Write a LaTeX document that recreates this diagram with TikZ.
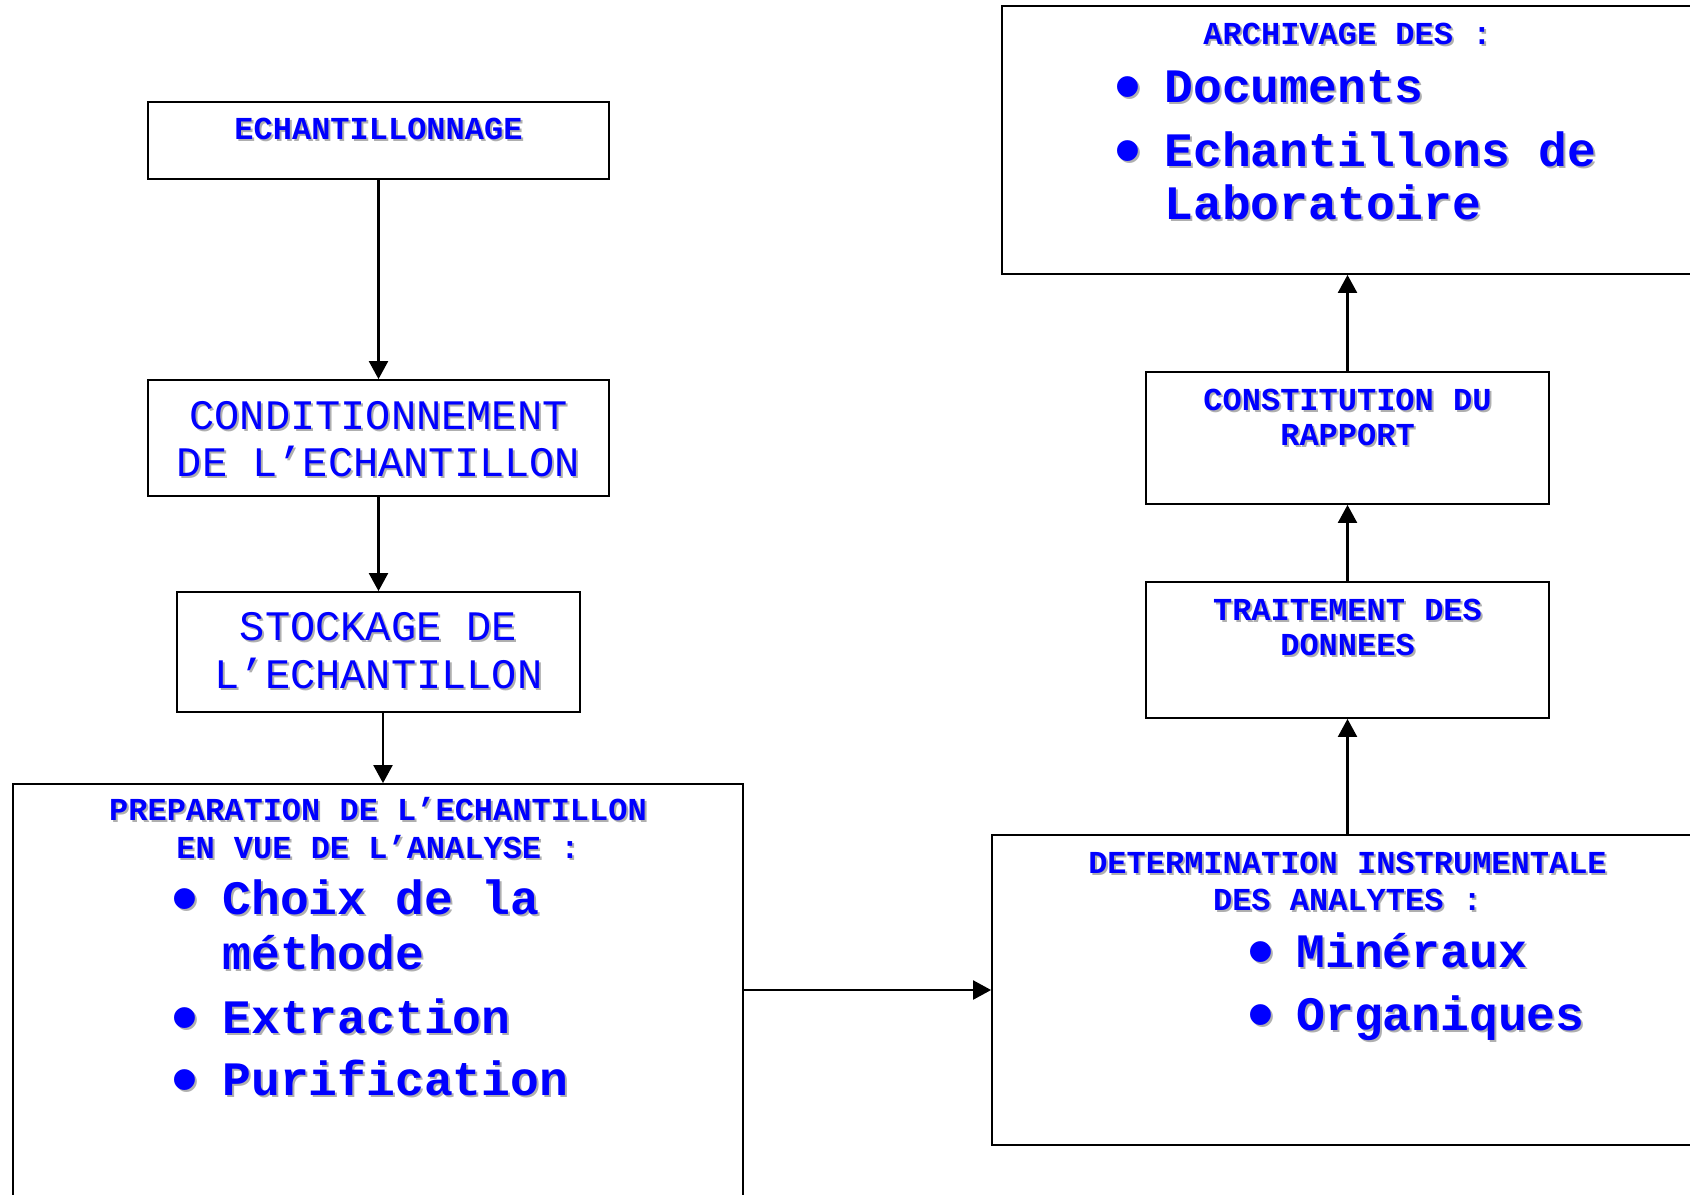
\documentclass[tikz,border=0pt]{standalone}
\usepackage{fontspec}
\setmainfont{Liberation Mono}
\newfontfamily\bulletfont{Liberation Sans}
\usetikzlibrary{arrows.meta}
\definecolor{txtblue}{RGB}{0,0,255}
\definecolor{shade}{RGB}{175,175,175}
\newcommand\sh[1]{\makebox[0pt][l]{\hspace{1pt}\raisebox{-1pt}{\color{shade}#1}}#1}
\newcommand\bul{\raisebox{-5pt}{\scalebox{1.6}{•}}}
\begin{document}
\begin{tikzpicture}[x=0.5pt,y=-0.5pt,
  box/.style={draw, line width=0.9pt, inner sep=0pt},
  arr/.style={line width=1.1pt, -{Triangle[length=9pt,width=9.5pt]}},
  head/.style={anchor=base, inner sep=0pt, text=txtblue, text height=0.7em, text depth=0.1em, font=\bfseries\fontsize{16}{19}\selectfont},
  big/.style={anchor=base, inner sep=0pt, text=txtblue, text height=0.7em, text depth=0.1em, font=\fontsize{21}{25}\selectfont},
  item/.style={anchor=base west, inner sep=0pt, text=txtblue, text height=0.75em, text depth=0.2em, font=\bfseries\fontsize{24}{28}\selectfont},
  dot/.style={anchor=base, inner sep=0pt, text=txtblue, text height=0.6em, text depth=0em, font=\bulletfont\fontsize{24}{28}\selectfont}]
\useasboundingbox (0,0) rectangle (1690,1194);

% boxes
\node[box, minimum width=230.5pt, minimum height=38.5pt] (b1) at (378.5,140.5) {};
\node[box, minimum width=230.5pt, minimum height=58pt] (b2) at (378.5,438) {};
\node[box, minimum width=201.5pt, minimum height=60pt] (b3) at (378.5,652) {};
\node[box, minimum width=365pt, minimum height=208pt] (b4) at (378,992) {};
\node[box, minimum width=355.5pt, minimum height=155pt] (b5) at (1347.5,990) {};
\node[box, minimum width=201.5pt, minimum height=68pt] (b6) at (1347.5,650) {};
\node[box, minimum width=201.5pt, minimum height=66pt] (b7) at (1347.5,438) {};
\node[box, minimum width=345.5pt, minimum height=134pt] (b8) at (1347.5,140) {};

% texts
\node[head] (t1) at (378.5,139) {\sh{ECHANTILLONNAGE}};

\node[big] (t2a) at (378.5,429) {\sh{CONDITIONNEMENT}};
\node[big] (t2b) at (378.5,476) {\sh{DE L’ECHANTILLON}};

\node[big] (t3a) at (378.5,640) {\sh{STOCKAGE DE}};
\node[big] (t3b) at (378.5,688) {\sh{L’ECHANTILLON}};

\node[head] (t4a) at (378,820) {\sh{PREPARATION DE L’ECHANTILLON}};
\node[head] (t4b) at (378,858) {\sh{EN VUE DE L’ANALYSE :}};
\node[dot] (d4a) at (185,914) {\sh{\bul}};
\node[item] (i4a) at (222,914) {\sh{Choix de la}};
\node[item] (i4b) at (222,969) {\sh{méthode}};
\node[dot] (d4b) at (185,1033) {\sh{\bul}};
\node[item] (i4c) at (222,1033) {\sh{Extraction}};
\node[dot] (d4c) at (185,1095) {\sh{\bul}};
\node[item] (i4d) at (222,1095) {\sh{Purification}};

\node[head] (t5a) at (1347.5,873) {\sh{DETERMINATION INSTRUMENTALE}};
\node[head] (t5b) at (1347.5,910) {\sh{DES ANALYTES :}};
\node[dot] (d5a) at (1261,967) {\sh{\bul}};
\node[item] (i5a) at (1296,967) {\sh{Minéraux}};
\node[dot] (d5b) at (1261,1030) {\sh{\bul}};
\node[item] (i5b) at (1296,1030) {\sh{Organiques}};

\node[head] (t6a) at (1347.5,620) {\sh{TRAITEMENT DES}};
\node[head] (t6b) at (1347.5,655) {\sh{DONNEES}};

\node[head] (t7a) at (1347.5,410) {\sh{CONSTITUTION DU}};
\node[head] (t7b) at (1347.5,445) {\sh{RAPPORT}};

\node[head] (t8a) at (1347.5,44) {\sh{ARCHIVAGE DES :}};
\node[dot] (d8a) at (1128,102) {\sh{\bul}};
\node[item] (i8a) at (1164,102) {\sh{Documents}};
\node[dot] (d8b) at (1128,166) {\sh{\bul}};
\node[item] (i8b) at (1164,166) {\sh{Echantillons de}};
\node[item] (i8c) at (1164,219) {\sh{Laboratoire}};

% connectors
\draw[arr] (b1.south) -- (b2.north);
\draw[arr] (b2.south) -- (b3.north);
\draw[arr] ([xshift=2.25pt]b3.south) -- ([xshift=2.25pt]b3.south |- b4.north);
\draw[arr] (b4.east |- b5.west) -- (b5.west);
\draw[arr] (b5.north) -- (b6.south);
\draw[arr] (b6.north) -- (b7.south);
\draw[arr] (b7.north) -- (b8.south);
\end{tikzpicture}
\end{document}
